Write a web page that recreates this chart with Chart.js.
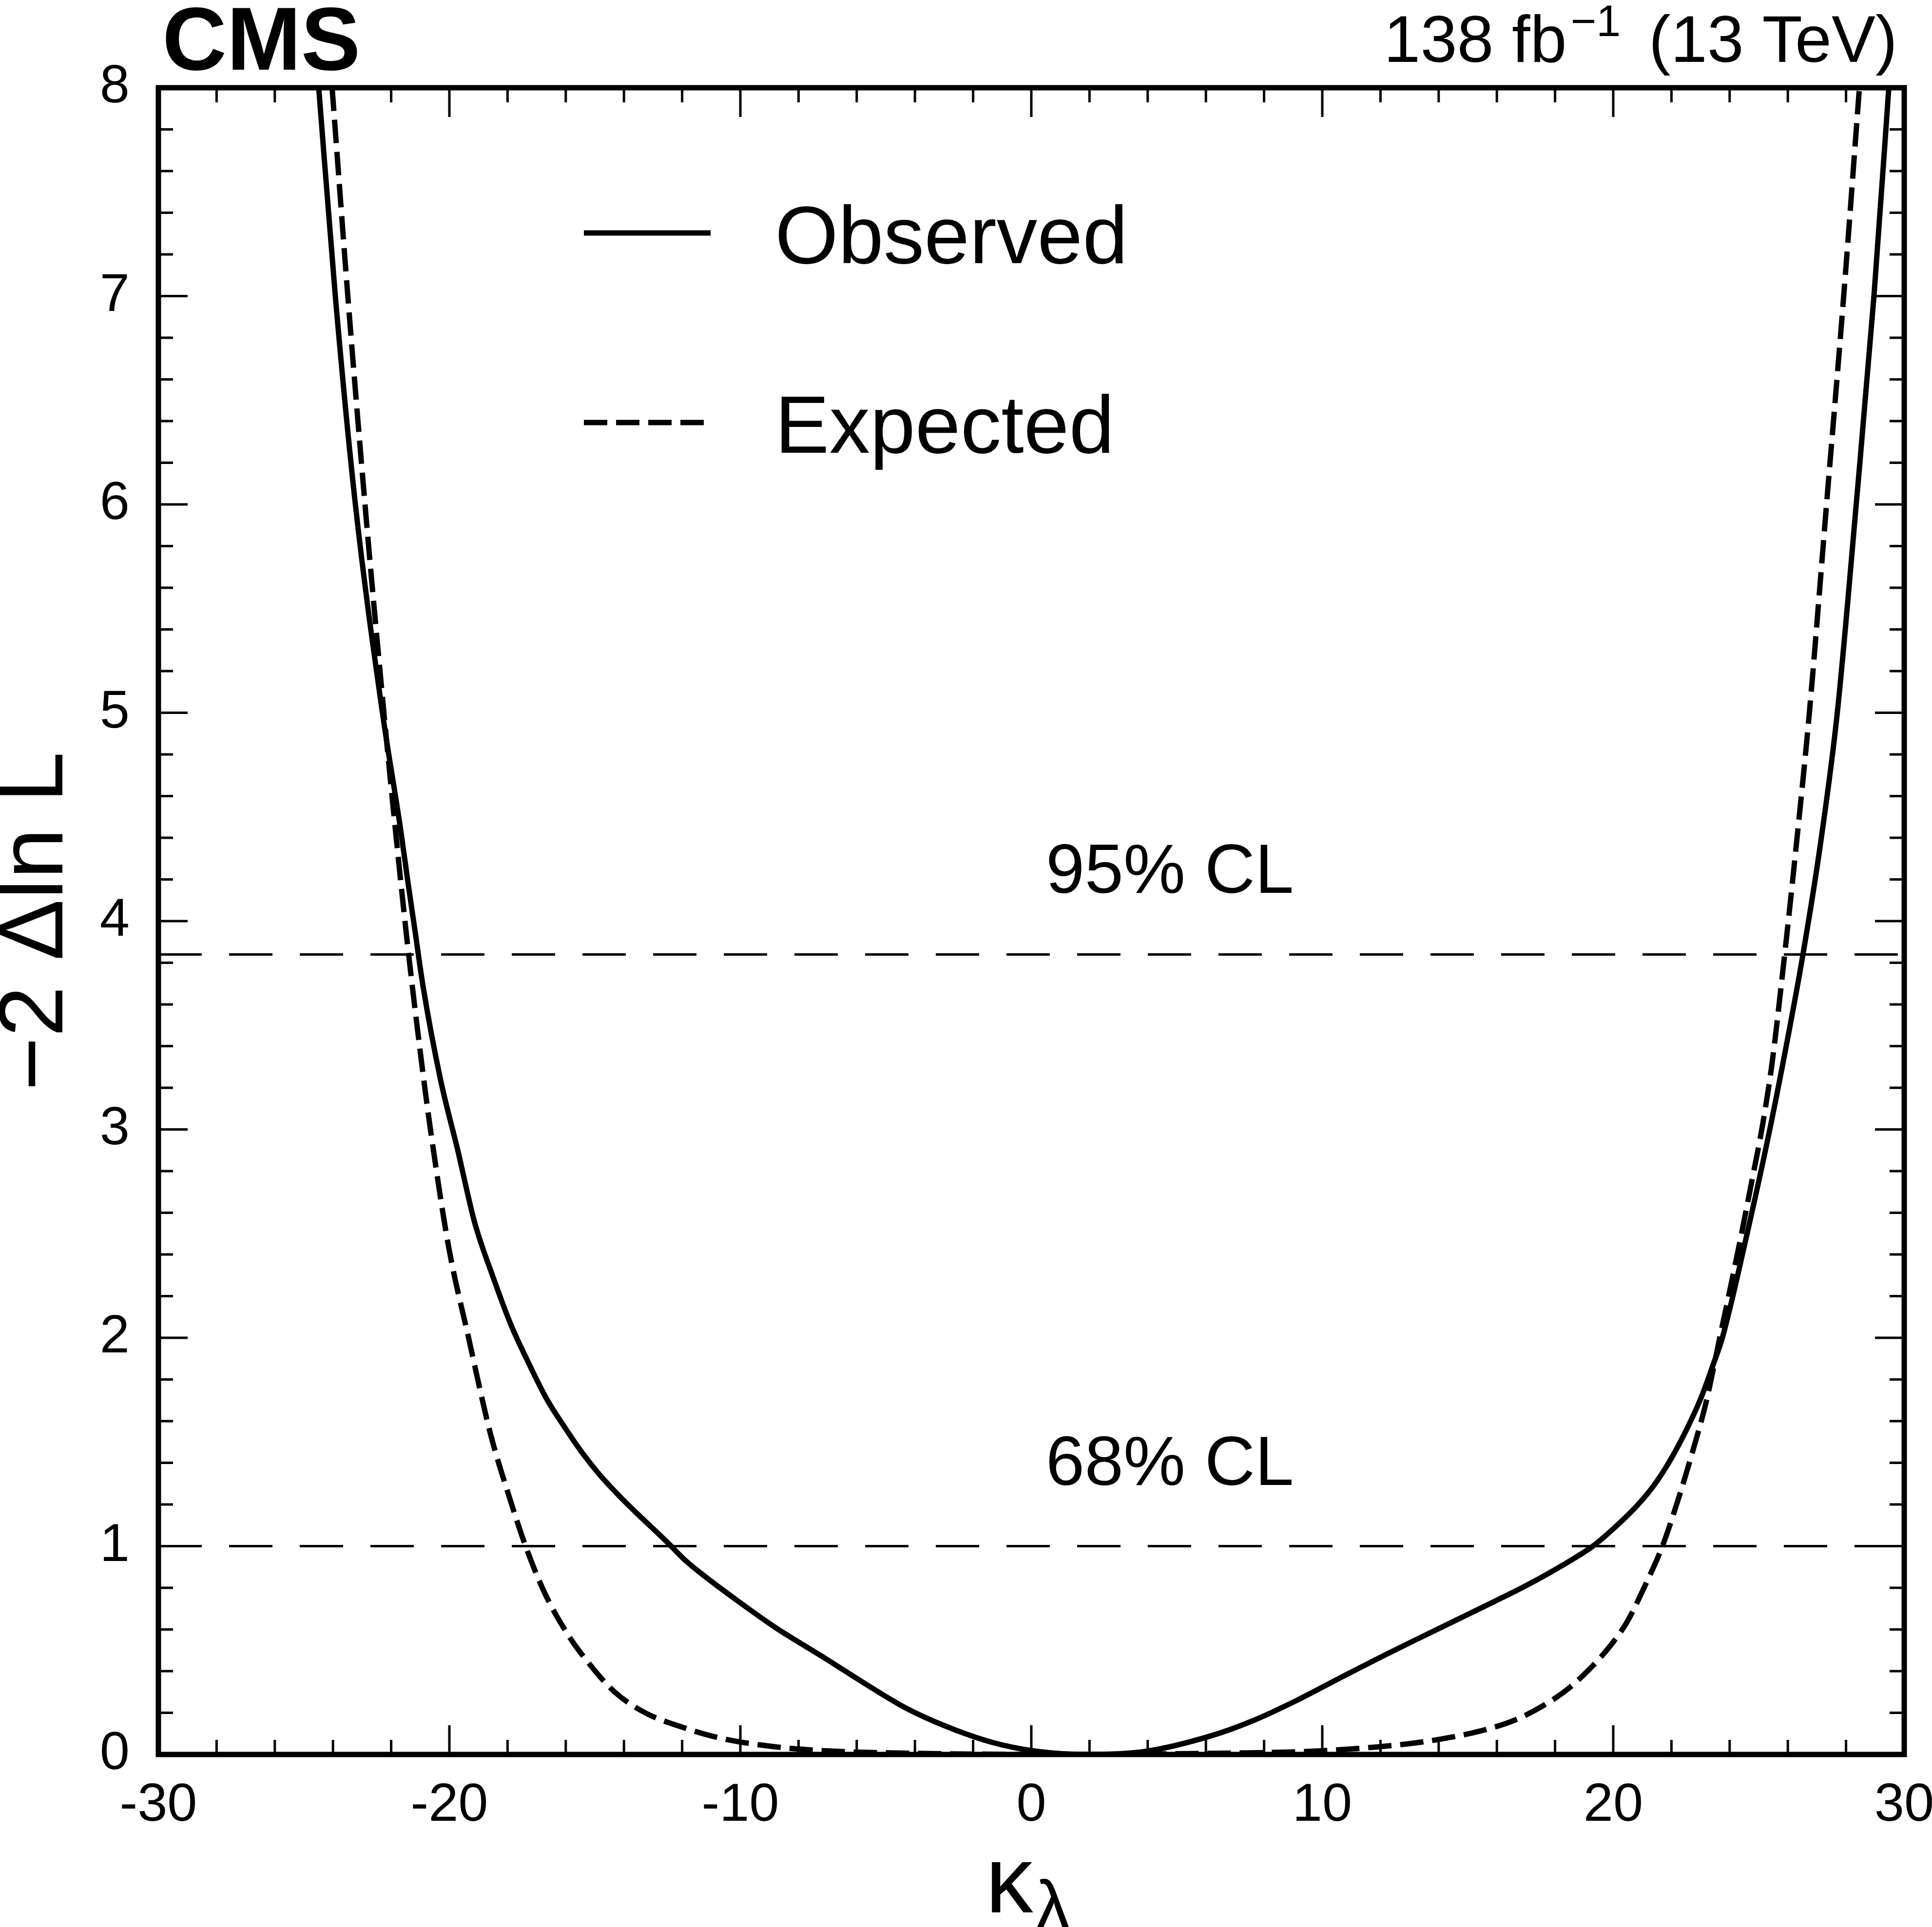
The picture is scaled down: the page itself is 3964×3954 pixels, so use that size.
<!DOCTYPE html>
<html>
<head>
<meta charset="utf-8">
<script src="https://cdn.jsdelivr.net/npm/chart.js@4.4.1/dist/chart.umd.min.js"></script>
<style>
  html, body { margin: 0; padding: 0; background: #fff; }
  canvas { display: block; }
</style>
</head>
<body>
<canvas id="scan" width="3964" height="3954" style="width:3964px;height:3954px"></canvas>
<script>
// likelihood scan
const obsX = [-24.49, -23.92, -23.23, -22.3, -21.68, -21.43, -21.17, -20.91, -20.31, -19.71, -19.13, -18.52,
  -17.88, -17.26, -16.67, -16.03, -15.44, -14.85, -14.21, -13.62, -12.5, -11.91, -11.33, -10.05, -8.76,
  -7.16, -5.83, -4.34, -2.84, -1.34, 0.15, 1.95,
  3.89, 6.14, 7.63, 9.13, 10.62, 12.12, 13.5, 15.41, 17.0, 18.4, 19.3, 20.0, 20.79, 21.39, 21.99, 22.59,
  23.04, 23.43, 23.75, 24.6, 25.38, 26.08, 26.52, 27.1, 27.7, 28.35, 28.96, 29.47];
const obsY = [8.0, 7.0, 6.0, 5.0, 4.444, 4.193, 3.943, 3.692, 3.243, 2.899, 2.553, 2.3,
  2.061, 1.874, 1.71, 1.569, 1.449, 1.345, 1.248, 1.166, 1.017, 0.934, 0.867, 0.733, 0.606,
  0.468, 0.35, 0.225, 0.13, 0.058, 0.016, 0.0,
  0.014, 0.088, 0.163, 0.26, 0.368, 0.475, 0.57, 0.7, 0.81, 0.92, 1.0, 1.083, 1.19, 1.29, 1.42, 1.58,
  1.72, 1.87, 2.0, 2.5, 3.0, 3.5, 3.84, 4.35, 5.0, 6.0, 7.0, 8.0];

const expX = [-24.03, -23.49, -22.9, -22.25, -21.79, -21.4, -20.89, -20.65, -20.03, -19.34, -18.59, -17.95,
  -17.38, -16.74, -15.97, -15.22, -14.32, -13.27, -12.08, -10.73, -8.94, -7.14, -5.0, -2.0, 1.0, 4.0, 7.0,
  9.42, 10.92, 12.41, 13.91, 15.41, 16.6, 17.5, 18.4, 19.15, 19.89, 20.49, 21.09, 21.69, 22.29, 22.74,
  23.19, 23.63, 24.01, 24.38, 24.76, 25.13, 25.45, 25.82, 26.28, 26.74, 27.33, 27.92, 28.46];
const expY = [8.0, 7.0, 6.0, 5.0, 4.35, 3.84, 3.25, 3.0, 2.44, 2.0, 1.54, 1.24,
  1.0, 0.78, 0.585, 0.44, 0.3, 0.2, 0.135, 0.08, 0.039, 0.018, 0.008, 0.002, 0.0, 0.002, 0.007,
  0.014, 0.026, 0.043, 0.07, 0.112, 0.164, 0.227, 0.31, 0.405, 0.52, 0.64, 0.81, 1.0, 1.25, 1.46,
  1.69, 1.98, 2.23, 2.48, 2.75, 3.02, 3.31, 3.75, 4.35, 5.0, 6.0, 7.0, 8.0];

const clLevels = [1.0, 3.84];
const clLabels = ['68% CL', '95% CL'];
const xRange = [-30, 30];
const xTicks = [-30, -20, -10, 0, 10, 20, 30];
const yTicks = [0, 1, 2, 3, 4, 5, 6, 7, 8];

const FONT = "'Liberation Sans', Arial, Helvetica, sans-serif";

function toPoints(xs, ys) {
  return xs.map((x, i) => ({ x: x, y: ys[i] }));
}

// ROOT style frame with inward ticks on all four sides
const frameTicks = {
  id: 'frameTicks',
  afterDatasetsDraw(chart) {
    const { ctx, chartArea: a } = chart;
    const x = chart.scales.x;
    const y = chart.scales.y;

    ctx.save();
    ctx.strokeStyle = '#000';
    ctx.lineWidth = 5;
    ctx.beginPath();
    for (let i = 0; i <= 30; i++) {
      const v = xRange[0] + i * 2;
      const px = x.getPixelForValue(v);
      const len = v % 10 === 0 ? 60 : 30;
      ctx.moveTo(px, a.bottom);
      ctx.lineTo(px, a.bottom - len);
      ctx.moveTo(px, a.top);
      ctx.lineTo(px, a.top + len);
    }
    for (let i = 0; i <= 40; i++) {
      const py = y.getPixelForValue(i * 0.2);
      const len = i % 5 === 0 ? 60 : 30;
      ctx.moveTo(a.left, py);
      ctx.lineTo(a.left + len, py);
      ctx.moveTo(a.right, py);
      ctx.lineTo(a.right - len, py);
    }
    ctx.stroke();

    ctx.lineWidth = 11;
    ctx.strokeRect(a.left, a.top, a.right - a.left, a.bottom - a.top);
    ctx.restore();
  }
};

const annotations = {
  id: 'annotations',
  afterDraw(chart) {
    const { ctx, chartArea: a } = chart;
    const x = chart.scales.x;
    const y = chart.scales.y;
    const ds = chart.data.datasets;

    ctx.save();
    ctx.fillStyle = '#000';
    ctx.textBaseline = 'alphabetic';

    // CMS label
    ctx.font = `bold 183px ${FONT}`;
    ctx.textAlign = 'left';
    ctx.fillText('CMS', a.left + 8, 143);

    // luminosity label, right aligned
    const right = a.right - 14;
    ctx.font = `135px ${FONT}`;
    ctx.textAlign = 'right';
    const tail = ' (13 TeV)';
    ctx.fillText(tail, right, 127);
    const tailW = ctx.measureText(tail).width;
    ctx.font = `90px ${FONT}`;
    const supRight = right - tailW - 20;
    ctx.fillText('\u22121', supRight, 74);
    const supW = ctx.measureText('\u22121').width;
    ctx.font = `135px ${FONT}`;
    ctx.fillText('138 fb', supRight - supW - 8, 127);

    // CL labels
    ctx.font = `143px ${FONT}`;
    ctx.textAlign = 'left';
    clLevels.forEach((lvl, i) => {
      ctx.fillText(clLabels[i], x.getPixelForValue(0.5), y.getPixelForValue(lvl) - 126);
    });

    // legend
    const rows = [a.top + 298, a.top + 687];
    [ds[0], ds[1]].forEach((d, i) => {
      ctx.save();
      ctx.strokeStyle = d.borderColor;
      ctx.lineWidth = d.borderWidth;
      ctx.setLineDash(d.borderDash || []);
      ctx.beginPath();
      ctx.moveTo(a.left + 873, rows[i]);
      ctx.lineTo(a.left + 1133, rows[i]);
      ctx.stroke();
      ctx.restore();
      ctx.font = `167px ${FONT}`;
      ctx.fillText(d.label, a.left + 1265, rows[i] + 62);
    });

    // x axis title: kappa_lambda
    const cx = (x.left + x.right) / 2;
    ctx.font = `195px ${FONT}`;
    ctx.fillText('\u03ba', cx - 94, 3924);
    ctx.font = `145px ${FONT}`;
    ctx.fillText('\u03bb', cx + 8, 3960);

    ctx.restore();
  }
};

const datasets = [
  {
    label: 'Observed',
    data: toPoints(obsX, obsY),
    borderColor: '#000',
    borderWidth: 11,
    borderDash: [],
    showLine: true,
    pointRadius: 0,
    cubicInterpolationMode: 'monotone',
    fill: false
  },
  {
    label: 'Expected',
    data: toPoints(expX, expY),
    borderColor: '#000',
    borderWidth: 11,
    borderDash: [48, 18],
    showLine: true,
    pointRadius: 0,
    cubicInterpolationMode: 'monotone',
    fill: false
  }
];

clLevels.forEach((lvl, i) => {
  datasets.push({
    label: clLabels[i],
    data: xRange.map(v => ({ x: v, y: lvl })),
    borderColor: '#000',
    borderWidth: 5,
    borderDash: [89, 56],
    showLine: true,
    pointRadius: 0,
    fill: false
  });
});

new Chart(document.getElementById('scan'), {
  type: 'scatter',
  data: { datasets: datasets },
  options: {
    responsive: false,
    devicePixelRatio: 1,
    animation: false,
    layout: { padding: { left: 0, top: 180, right: 57, bottom: 0 } },
    plugins: {
      legend: { display: false },
      tooltip: { enabled: false }
    },
    scales: {
      x: {
        type: 'linear',
        min: xRange[0],
        max: xRange[1],
        afterBuildTicks(s) {
          s.ticks = xTicks.map(v => ({ value: v }));
        },
        afterFit(s) {
          s.height = 354;
          s.paddingLeft = 0;
          s.paddingRight = 0;
        },
        grid: { display: false, drawTicks: false },
        border: { display: false },
        ticks: {
          color: '#000',
          font: { family: FONT, size: 110 },
          padding: 40,
          maxRotation: 0,
          autoSkip: false,
          callback: v => String(v)
        }
      },
      y: {
        type: 'linear',
        min: yTicks[0],
        max: yTicks[yTicks.length - 1],
        afterBuildTicks(s) {
          s.ticks = yTicks.map(v => ({ value: v }));
        },
        afterFit(s) {
          s.width = 325;
          s.paddingTop = 0;
          s.paddingBottom = 0;
        },
        grid: { display: false, drawTicks: false },
        border: { display: false },
        title: {
          display: true,
          text: '\u22122 \u0394ln L',
          color: '#000',
          font: { family: FONT, size: 188, lineHeight: 0.81 },
          padding: 0
        },
        ticks: {
          color: '#000',
          font: { family: FONT, size: 110 },
          padding: 59,
          autoSkip: false,
          callback: v => String(v)
        }
      }
    }
  },
  plugins: [frameTicks, annotations]
});
</script>
</body>
</html>
